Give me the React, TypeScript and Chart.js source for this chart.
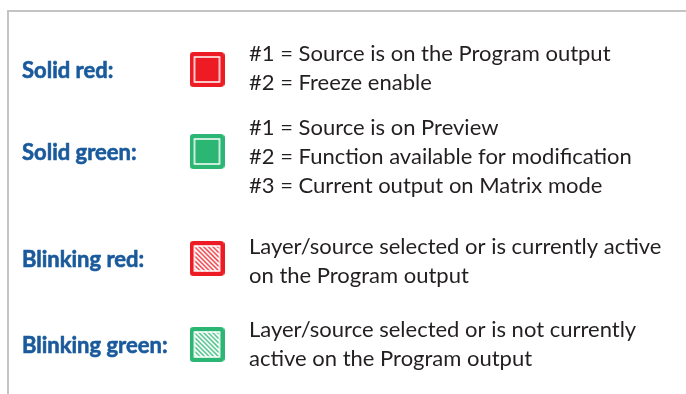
import React, { useEffect, useRef } from "react";
import { Chart, registerables } from "chart.js";

Chart.register(...registerables);

// ---- data ----
const categories = ["Solid red:", "Solid green:", "Blinking red:", "Blinking green:"];
const swatchColors = ["#ed1c24", "#2bb673", "#ed1c24", "#2bb673"];
const blinking = [false, false, true, true];
const descriptions = [
  ["#1 = Source is on the Program output", "#2 = Freeze enable"],
  [
    "#1 = Source is on Preview",
    "#2 = Function available for modification",
    "#3 = Current output on Matrix mode",
  ],
  ["Layer/source selected or is currently active", "on the Program output"],
  ["Layer/source selected or is not currently", "active on the Program output"],
];
// row centre of each swatch (vertical value)
const rowValues = [69.5, 151.5, 258.5, 344.5];
// baseline of the first description line in each row
const descFirstLine = [61, 135, 254, 337];
// column values: label, swatch, description
const columns = [22, 207, 249];

const LABEL_COLOR = "#1a5a9c";
const TEXT_COLOR = "#231f20";
const FRAME_COLOR = "#c4c4c4";

function makeSwatch(color: string, hatch: boolean): HTMLCanvasElement {
  const size = 35;
  const c = document.createElement("canvas");
  c.width = size;
  c.height = size;
  const ctx = c.getContext("2d")!;
  const r = 4;
  ctx.fillStyle = color;
  ctx.beginPath();
  ctx.moveTo(r, 0);
  ctx.lineTo(size - r, 0);
  ctx.quadraticCurveTo(size, 0, size, r);
  ctx.lineTo(size, size - r);
  ctx.quadraticCurveTo(size, size, size - r, size);
  ctx.lineTo(r, size);
  ctx.quadraticCurveTo(0, size, 0, size - r);
  ctx.lineTo(0, r);
  ctx.quadraticCurveTo(0, 0, r, 0);
  ctx.closePath();
  ctx.fill();
  const inset = 4.5;
  const inner = size - inset * 2;
  if (hatch) {
    ctx.save();
    ctx.beginPath();
    ctx.rect(inset, inset, inner, inner);
    ctx.clip();
    ctx.strokeStyle = "#ffffff";
    ctx.lineWidth = 2;
    for (let k = -inner; k <= inner; k += 4.6) {
      ctx.beginPath();
      ctx.moveTo(inset + k, inset);
      ctx.lineTo(inset + k + inner, inset + inner);
      ctx.stroke();
    }
    ctx.restore();
  }
  ctx.strokeStyle = "#ffffff";
  ctx.lineWidth = 1.5;
  ctx.strokeRect(inset + 0.5, inset + 0.5, inner - 1, inner - 1);
  return c;
}

const textPlugin = {
  id: "legendText",
  afterDraw(chart: any) {
    const { ctx, scales } = chart;
    const xs = scales.x;
    const ys = scales.y;
    ctx.save();
    // frame
    ctx.strokeStyle = FRAME_COLOR;
    ctx.lineWidth = 2;
    ctx.beginPath();
    ctx.moveTo(xs.getPixelForValue(686), ys.getPixelForValue(11));
    ctx.lineTo(xs.getPixelForValue(8), ys.getPixelForValue(11));
    ctx.lineTo(xs.getPixelForValue(8), ys.getPixelForValue(394));
    ctx.stroke();

    ctx.textAlign = "left";
    ctx.textBaseline = "alphabetic";
    categories.forEach((label, i) => {
      ctx.fillStyle = LABEL_COLOR;
      ctx.strokeStyle = LABEL_COLOR;
      ctx.lineWidth = 0.6;
      ctx.font = "bold 22px Lato";
      const lx = xs.getPixelForValue(columns[0]);
      const ly = ys.getPixelForValue(rowValues[i] + 8);
      ctx.fillText(label, lx, ly);
      ctx.strokeText(label, lx, ly);
      ctx.fillStyle = TEXT_COLOR;
      ctx.font = "22px Lato";
      descriptions[i].forEach((line, j) => {
        ctx.fillText(
          line,
          xs.getPixelForValue(columns[2]),
          ys.getPixelForValue(descFirstLine[i] + j * 29)
        );
      });
    });
    ctx.restore();
  },
};

export default function App() {
  const ref = useRef<HTMLCanvasElement>(null);
  useEffect(() => {
    if (!ref.current) return;
    const swatches = swatchColors.map((c, i) => makeSwatch(c, blinking[i]));
    const chart = new Chart(ref.current, {
      type: "scatter",
      data: {
        datasets: [
          {
            data: rowValues.map((v) => ({ x: columns[1], y: v })),
            pointStyle: swatches as any,
            pointRadius: 17,
            pointHoverRadius: 17,
          },
        ],
      },
      options: {
        animation: false,
        responsive: false,
        devicePixelRatio: 1,
        layout: { padding: 0, autoPadding: false },
        events: [],
        plugins: {
          legend: { display: false },
          tooltip: { enabled: false },
        },
        scales: {
          x: { type: "linear", min: 0, max: 686, display: false },
          y: { type: "linear", min: 0, max: 394, reverse: true, display: false },
        },
      },
      plugins: [textPlugin],
    });
    return () => chart.destroy();
  }, []);
  return (
    <div
      style={{
        position: "fixed",
        left: 0,
        top: 0,
        width: 686,
        height: 394,
        background: "#ffffff",
      }}
    >
      <canvas ref={ref} width={686} height={394} style={{ display: "block" }} />
    </div>
  );
}
